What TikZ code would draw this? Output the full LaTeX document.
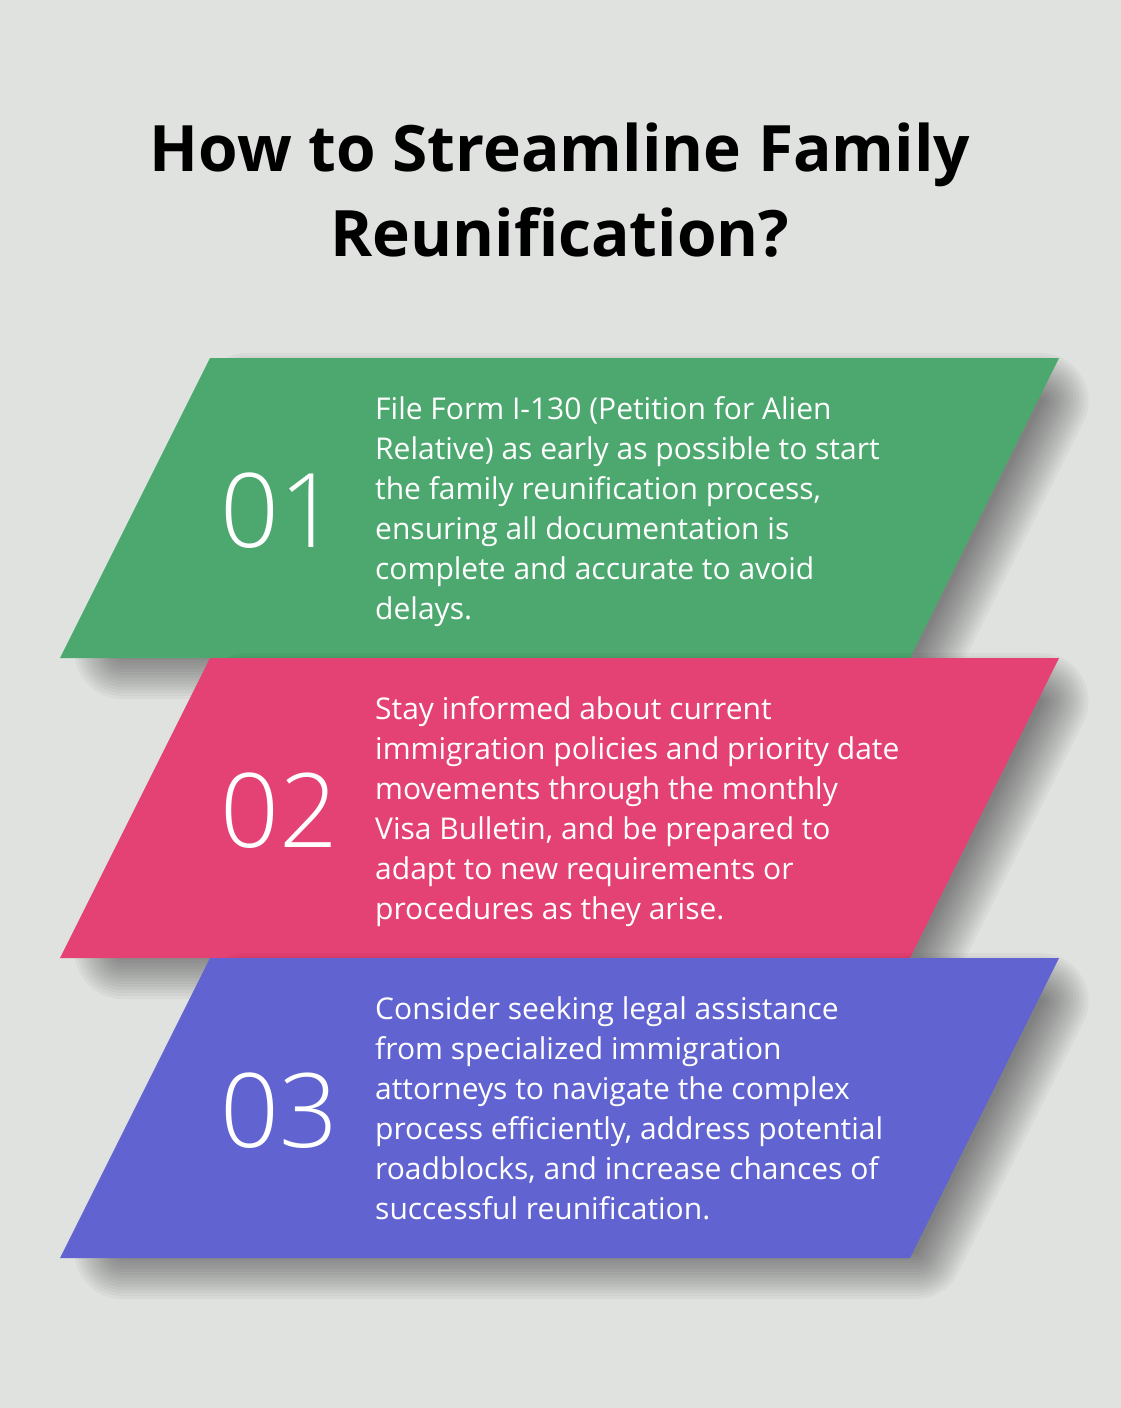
\documentclass[tikz,border=0pt]{standalone}
\usepackage{fontspec}
\setmainfont{Open Sans}
\IfFontExistsTF{Open Sans Light}{\newfontfamily\numfont{Open Sans Light}}{\newfontfamily\numfont{Open Sans}}
\definecolor{bgc}{HTML}{E0E2E0}
\definecolor{cgreen}{HTML}{4CA86E}
\definecolor{cpink}{HTML}{E44174}
\definecolor{cblue}{HTML}{6063D0}
\tikzset{
  titletext/.style={font=\bfseries\fontsize{64}{85}\selectfont, text=black, align=center, inner sep=0pt},
  numtext/.style={font=\numfont\fontsize{103}{103}\selectfont, text=white, inner sep=0pt, anchor=base west},
  bodytext/.style={font=\fontsize{30}{40}\selectfont, text=white, align=left, inner sep=0pt, anchor=base west},
}
\newcommand\bandshadow[1]{%
  \foreach \r in {3,6,...,48} {
    \begin{scope}[transparency group, opacity=0.03]
      \filldraw[black, line width=2*\r pt, line join=round]
        (247.5,{#1+43}) -- (1040.5,{#1+43}) -- (915.5,{#1+293}) -- (122.5,{#1+293}) -- cycle;
    \end{scope}
  }%
}
\newcommand\band[2]{%
  \fill[#2] (210,#1) -- (1059,#1) -- (910,{#1+300}) -- (60,{#1+300}) -- cycle;
}
\begin{document}
\begin{tikzpicture}[x=1pt,y=-1pt]
\useasboundingbox (0,0) rectangle (1120,1408);
\fill[bgc] (-6,-6) rectangle (1126,1414);

\node[titletext, anchor=base] (title) at (560,256) {How to Streamline Family\\Reunification?};

\bandshadow{358}
\band{358}{cgreen}
\bandshadow{658}
\band{658}{cpink}
\bandshadow{958}
\band{958}{cblue}

\node[numtext] (n1) at (220,547) {01};
\node[numtext] (n2) at (220,847) {02};
\node[numtext] (n3) at (220,1147) {03};

\node[bodytext] (t1) at (375,619) {File Form I-130 (Petition for Alien\\Relative) as early as possible to start\\the family reunification process,\\ensuring all documentation is\\complete and accurate to avoid\\delays.};
\node[bodytext] (t2) at (375,919) {Stay informed about current\\immigration policies and priority date\\movements through the monthly\\Visa Bulletin, and be prepared to\\adapt to new requirements or\\procedures as they arise.};
\node[bodytext] (t3) at (375,1219) {Consider seeking legal assistance\\from specialized immigration\\attorneys to navigate the complex\\process efficiently, address potential\\roadblocks, and increase chances of\\successful reunification.};
\end{tikzpicture}
\end{document}
